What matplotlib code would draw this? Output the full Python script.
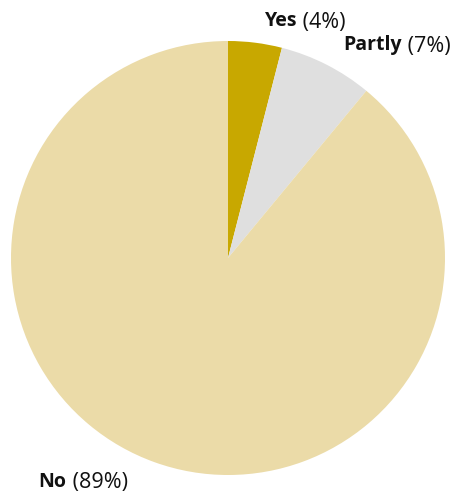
import numpy as np
import matplotlib.pyplot as plt

# ==========================
# DATA
# ==========================

labels = ["Yes", "Partly", "No"]
shares = [4, 7, 89]
colors = ["#C8A800", "#DFDFDF", "#EBDBA8"]

# ==========================
# PLOT
# ==========================

plt.rcParams["font.family"] = ["Open Sans", "DejaVu Sans"]

fig = plt.figure(figsize=(4.58, 4.97), dpi=100)
ax = fig.add_axes([0, 0, 1, 1])

wedges, _ = ax.pie(
    shares,
    colors=colors,
    startangle=90,
    counterclock=False,
    radius=1.0,
    wedgeprops=dict(linewidth=0),
)

# pixel layout: center (228, 258), radius 217 px
r_px = 217.0
ax.set_xlim(-228 / r_px, (458 - 228) / r_px)
ax.set_ylim(-(497 - 258) / r_px, 258 / r_px)
ax.set_aspect("auto")
ax.axis("off")

fs_name = 14
fs_pct = 15.5
total = sum(shares)
start = 90.0
for name, val in zip(labels, shares):
    span = 360.0 * val / total
    mid = np.deg2rad(start - span / 2)
    start -= span
    x = 1.1 * np.cos(mid)
    y = 1.1 * np.sin(mid)
    pct = f" ({val}%)"
    if x >= 0:
        t = ax.annotate(name, xy=(x, y), xytext=(5, 0),
                        textcoords="offset points", fontsize=fs_name,
                        fontweight="bold", ha="left", va="center",
                        color="#111111")
        ax.annotate(pct, xy=(1, 0), xycoords=t, xytext=(0, -1),
                    textcoords="offset points", fontsize=fs_pct,
                    ha="left", va="bottom", color="#111111")
    else:
        t = ax.annotate(pct, xy=(x, y), xytext=(-14, 0),
                        textcoords="offset points", fontsize=fs_pct,
                        ha="right", va="center", color="#111111")
        ax.annotate(name, xy=(0, 0), xycoords=t, xytext=(0, 1),
                    textcoords="offset points", fontsize=fs_name,
                    fontweight="bold", ha="right", va="bottom",
                    color="#111111")

fig.savefig("out.png", dpi=100)
plt.close(fig)
